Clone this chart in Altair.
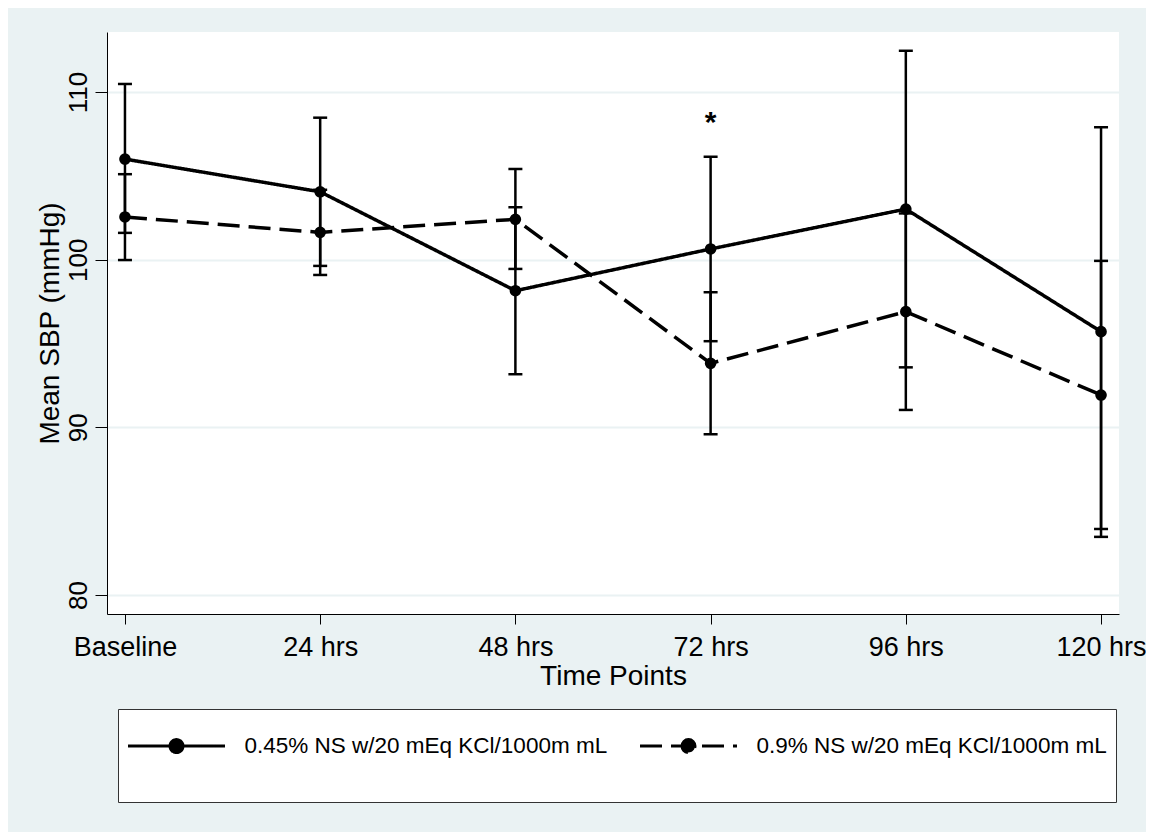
import altair as alt
import pandas as pd

# ---- data ----
time_points = ["Baseline", "24 hrs", "48 hrs", "72 hrs", "96 hrs", "120 hrs"]
series_names = ["0.45% NS w/20 mEq KCl/1000m mL", "0.9% NS w/20 mEq KCl/1000m mL"]

mean_045 = [106.0, 104.05, 98.15, 100.64, 103.02, 95.71]
lower_045 = [101.6, 99.63, 93.17, 95.14, 93.58, 83.47]
upper_045 = [110.48, 108.47, 103.13, 106.14, 112.46, 107.9]

mean_09 = [102.55, 101.63, 102.41, 93.82, 96.9, 91.93]
lower_09 = [99.98, 99.09, 99.45, 89.59, 91.04, 83.94]
upper_09 = [105.1, 104.17, 105.41, 98.06, 102.76, 99.93]

y_ticks = [80, 90, 100, 110]
y_domain = [78.87, 113.58]

annotation_time = ["72 hrs"]
annotation_text = ["*"]
annotation_y = [107.6]

# ---- tables ----
rows = []
for s, m, lo, up in [(series_names[0], mean_045, lower_045, upper_045),
                     (series_names[1], mean_09, lower_09, upper_09)]:
    for t, mv, lv, uv in zip(time_points, m, lo, up):
        rows.append({"time": t, "series": s, "mean": mv, "lower": lv, "upper": uv})
df = pd.DataFrame(rows)
ann = pd.DataFrame({"time": annotation_time, "label": annotation_text, "y": annotation_y})

FONT = "Liberation Sans"
BG = "#EAF2F3"

x_axis = alt.Axis(
    labelAngle=0, labelFontSize=27, labelFont=FONT, labelColor="black",
    labelBaseline="alphabetic", labelPadding=31, tickSize=10, tickColor="black",
    domainColor="black", domainWidth=1, grid=False,
    titleFontSize=28, titleFont=FONT, titleFontWeight="normal", titleColor="black",
    titleBaseline="alphabetic", titleY=70,
)
y_axis = alt.Axis(
    values=y_ticks, labelAngle=270, labelAlign="center", labelBaseline="alphabetic",
    labelFontSize=26, labelFont=FONT, labelColor="black", labelPadding=9,
    tickSize=12, tickColor="black", domainColor="black", domainWidth=1,
    grid=True, gridColor=BG, gridWidth=2,
    titleFontSize=28, titleFont=FONT, titleFontWeight="normal", titleColor="black",
    titleAngle=270, titleAlign="center", titleBaseline="middle", titleX=-57, titleY=291,
)

x_scale = alt.Scale(type="point", padding=0.092)
y_scale = alt.Scale(domain=y_domain, nice=False, zero=False)

X = alt.X("time:O", sort=time_points, scale=x_scale, axis=x_axis, title="Time Points")


def Y(field):
    return alt.Y(field, scale=y_scale, axis=y_axis, title="Mean SBP (mmHg)")


# legend symbol: horizontal line with a dot in the middle (normalised units, r = 26.5px);
# the trailing move-to only stretches the entry's bounds downward to size the legend box.
legend_symbol = ("M-1.83,0H1.83"
                 "M-0.245,0A0.245,0.245,0,1,1,0.245,0A0.245,0.245,0,1,1,-0.245,0Z"
                 "M0,1.54")

legend = alt.Legend(
    title=None, orient="none", legendX=11, legendY=677, direction="horizontal",
    symbolType=legend_symbol, symbolSize=2809, symbolStrokeWidth=3,
    symbolFillColor="black", symbolStrokeColor="black", symbolOffset=21.5,
    labelFontSize=22.5, labelFont=FONT, labelColor="black", labelOffset=40,
    labelLimit=2000, columnPadding=26, padding=9,
    fillColor="white", strokeColor="#333333",
)

lines = alt.Chart(df).mark_line(color="black", strokeWidth=3.5).encode(
    x=X, y=Y("mean:Q"),
    strokeDash=alt.StrokeDash(
        "series:N",
        scale=alt.Scale(domain=series_names, range=[[1, 0], [22, 9]]),
        legend=legend,
    ),
    detail="series:N",
)

rules = alt.Chart(df).mark_rule(color="black", strokeWidth=2.5).encode(
    x=X, y=Y("lower:Q"), y2="upper:Q"
)
caps_lo = alt.Chart(df).mark_tick(color="black", orient="horizontal", size=14,
                                  thickness=2.5, opacity=1).encode(x=X, y=Y("lower:Q"))
caps_up = alt.Chart(df).mark_tick(color="black", orient="horizontal", size=14,
                                  thickness=2.5, opacity=1).encode(x=X, y=Y("upper:Q"))
points = alt.Chart(df).mark_point(filled=True, color="black", size=135, opacity=1).encode(
    x=X, y=Y("mean:Q"), detail="series:N"
)
stars = alt.Chart(ann).mark_text(fontSize=30, font=FONT, fontWeight="bold", color="black",
                                 baseline="alphabetic", align="center").encode(
    x=X, y=Y("y:Q"), text="label:N"
)

chart = alt.layer(lines, rules, caps_lo, caps_up, points, stars).properties(
    width=1012, height=582, background=BG,
    autosize=alt.AutoSizeParams(type="none"),
    padding={"left": 99, "top": 24, "right": 27, "bottom": 218},
).configure_view(stroke=None, fill="white")

chart.save("out.html", embed_options={"renderer": "svg", "actions": False})
